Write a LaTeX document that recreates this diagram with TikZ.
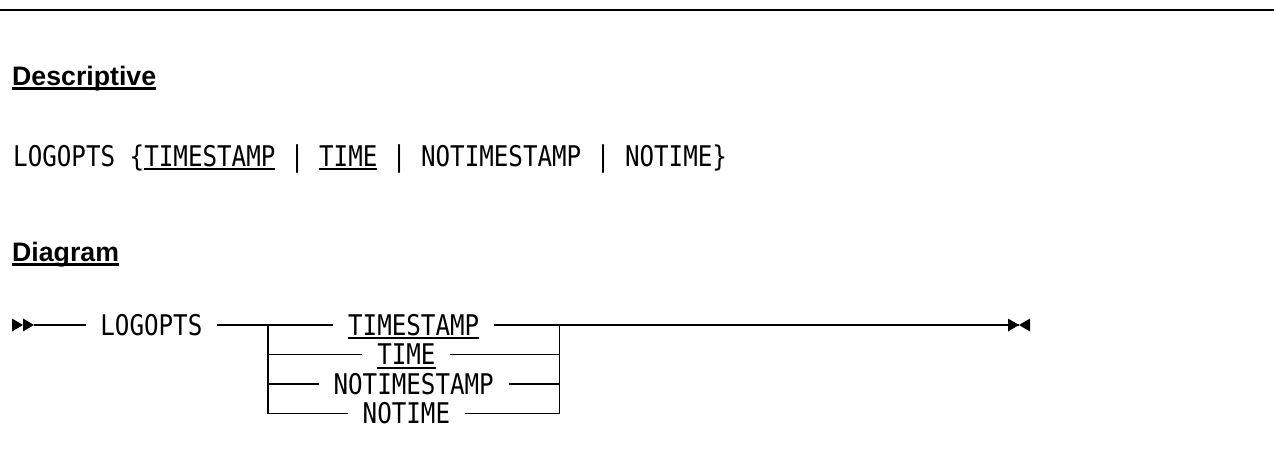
\documentclass[tikz,border=0pt]{standalone}
\usepackage{fontspec}
\setmainfont{Liberation Sans}
\newfontfamily\railfont[FakeStretch=0.849]{DejaVu Sans Mono}
\usetikzlibrary{calc}

% underlined keyword / heading
\newcommand\railul[2][-4pt]{\setbox0\hbox{#2}\rlap{\rule[#1]{\wd0}{2.2pt}}\box0\relax}

\begin{document}
\begin{tikzpicture}[x=1pt,y=-1pt,
  rail/.style={line width=1.6pt},
  kw/.style={font={\railfont\fontsize{28.5pt}{30pt}\selectfont},inner xsep=14.57pt,inner ysep=0pt,text height=20.8pt,text depth=0pt},
  heading/.style={font={\bfseries\fontsize{26.7pt}{30pt}\selectfont},inner sep=0pt,anchor=base west}]
\useasboundingbox (0,0) rectangle (1274,459);

\draw[line width=2.2pt] (0,10) -- (1274,10);

\node[heading] (hdesc) at (12,85) {\railul[-4.5pt]{Descriptive}};
\node[kw,inner xsep=0pt,anchor=base west] (syntax) at (13,166) {LOGOPTS \{\railul{TIMESTAMP} | \railul{TIME} | NOTIMESTAMP | NOTIME\}};
\node[heading] (hdiag) at (12,261) {\railul[-4.5pt]{Diagram}};

% railroad
\coordinate (entry) at (12,325);
\coordinate (start) at (34,325);
\coordinate (lb) at (268,325);
\coordinate (rb) at (559.4,325);
\coordinate (finish) at (1019,325);

\node[kw] (logopts) at (151.4,325) {LOGOPTS};
\node[kw] (ts) at (413.7,325) {\railul{TIMESTAMP}};
\node[kw] (tm) at (406.4,354.5) {\railul{TIME}};
\node[kw] (nts) at (413.7,384) {NOTIMESTAMP};
\node[kw] (ntm) at (406.4,413.5) {NOTIME};

\draw[rail] (start) -- (logopts) -- (lb) -- (ts) -- (rb) -- (finish);
\foreach \opt in {tm,nts,ntm} {
  \draw[rail] (lb) |- (\opt.west);
  \draw[rail] (\opt.east) -| (rb);
}

\foreach \dx in {0,11}
  \fill ($(entry)+(\dx,-6.5)$) -- ++(11,6.5) -- ++(-11,6.5) -- cycle;
\fill (finish) -- ++(-11,-6.5) -- ++(0,13) -- cycle;
\fill (finish) -- ++(11,-6.5) -- ++(0,13) -- cycle;
\end{tikzpicture}
\end{document}
